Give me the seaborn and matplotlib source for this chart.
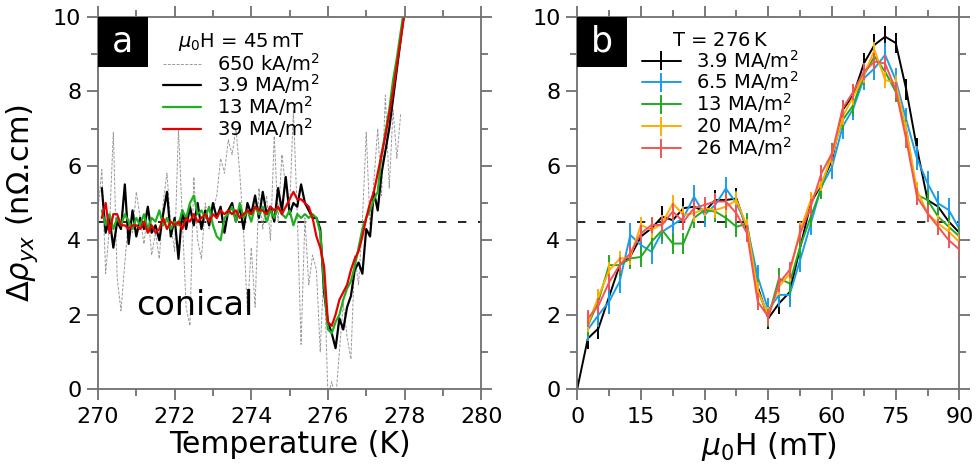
import matplotlib
matplotlib.use("Agg")
import matplotlib.pyplot as plt
from matplotlib.patches import Rectangle
from matplotlib.ticker import MultipleLocator
import seaborn as sns
import pandas as pd
import numpy as np

# ---------------- panel a : Delta rho_yx vs temperature at 45 mT ----------------
temp = np.round(np.arange(270.1, 278.05, 0.1), 1)
temp_gray = np.round(np.arange(270.0, 277.95, 0.1), 1)

rho_650k = [4.8, 5.9, 3.1, 4.4, 6.9, 3.0, 2.1, 3.4, 4.6, 4.2,
            5.3, 4.6, 3.9, 4.8, 3.6, 4.2, 3.5, 5.0, 5.8, 4.4,
            3.7, 7.0, 4.6, 2.2, 1.7, 5.7, 4.0, 3.5, 5.0, 4.3,
            4.8, 5.2, 6.2, 5.8, 6.7, 6.3, 7.0, 5.8, 4.2, 2.1,
            3.8, 2.2, 5.4, 4.3, 5.2, 4.0, 6.8, 4.5, 6.3, 5.4,
            4.8, 7.5, 4.7, 1.2, 4.6, 2.8, 3.6, 3.2, 1.0, 3.3,
            -0.2, 0.2, -0.3, 1.0, 2.3, 1.4, 0.8, 3.6, 2.8, 4.5,
            6.9, 4.4, 5.6, 7.0, 5.2, 7.9, 5.4, 7.5, 6.2, 7.4]

rho_3p9 = [5.4, 4.2, 4.6, 3.8, 4.5, 4.3, 5.5, 3.9, 4.8, 4.1,
           4.6, 4.3, 4.9, 4.2, 4.4, 4.0, 4.7, 5.3, 4.1, 4.6,
           3.5, 4.8, 4.3, 4.9, 4.4, 5.0, 4.3, 4.8, 4.4, 5.0,
           4.6, 4.9, 4.2, 4.8, 5.0, 4.5, 4.9, 4.3, 5.0, 4.7,
           5.2, 4.6, 5.3, 4.7, 4.9, 4.5, 5.4, 4.8, 5.7, 4.7,
           5.0, 4.9, 5.5, 5.0, 4.8, 4.6, 4.6, 4.3, 2.6, 1.8,
           1.5, 1.1, 1.9, 1.6, 2.2, 2.5, 3.2, 3.4, 3.1, 4.3,
           4.1, 5.3, 4.8, 5.8, 6.4, 7.0, 7.8, 8.6, 9.4, 10.2]

rho_13 = [4.8, 4.4, 4.7, 4.3, 4.6, 4.4, 4.7, 4.5, 4.3, 4.6,
          4.4, 4.7, 4.3, 4.6, 4.5, 4.8, 4.4, 4.6, 4.3, 4.5,
          4.4, 4.8, 4.6, 5.0, 5.2, 4.7, 4.8, 4.6, 4.9, 4.4,
          4.1, 4.0, 4.6, 4.7, 4.9, 4.5, 5.0, 4.6, 4.8, 4.5,
          4.9, 4.7, 4.9, 4.5, 4.8, 4.6, 4.9, 4.7, 4.6, 4.8,
          4.4, 4.7, 4.6, 4.7, 4.6, 4.7, 4.6, 4.2, 2.8, 1.6,
          1.5, 1.8, 2.0, 2.4, 2.7, 2.9, 3.3, 3.8, 4.3, 4.6,
          4.8, 5.1, 5.3, 6.3, 6.9, 7.5, 8.3, 8.9, 9.6, 10.3]

rho_39 = [4.6, 5.0, 4.2, 4.7, 4.7, 4.4, 4.4, 4.3, 4.4, 4.4,
          4.3, 4.5, 4.2, 4.4, 4.2, 4.3, 4.6, 4.3, 4.5, 4.4,
          4.5, 4.3, 4.6, 4.5, 4.7, 4.5, 4.6, 4.7, 4.5, 4.7,
          4.6, 4.8, 4.7, 4.8, 4.7, 4.8, 4.6, 4.7, 4.8, 4.7,
          4.9, 4.8, 4.8, 4.7, 4.9, 4.8, 4.9, 4.7, 4.9, 5.1,
          5.3, 5.1, 5.1, 5.0, 4.9, 4.6, 4.1, 3.8, 3.3, 1.8,
          1.7, 2.0, 2.4, 2.6, 2.8, 3.2, 3.5, 3.7, 4.1, 4.6,
          5.0, 5.3, 5.8, 6.3, 6.8, 7.4, 8.0, 8.7, 9.4, 10.1]

# ---------------- panel b : Delta rho_yx vs field at 276 K ----------------
field = np.arange(0, 90.1, 2.5)

rho_b_3p9 = [0.0, 1.36, 1.63, 2.48, 3.33, 3.56, 4.10, 4.32, 4.63, 4.54,
             4.86, 4.90, 4.77, 5.08, 5.08, 5.12, 4.27, 2.75, 1.90, 2.30,
             2.60, 3.80, 5.00, 5.50, 6.16, 7.50, 7.90, 8.75, 9.25, 9.47,
             9.30, 8.04, 6.47, 5.08, 4.90, 4.50, 4.20]
rho_b_6p5 = [1.60, 1.99, 2.35, 2.89, 4.14, 3.87, 3.69, 4.23, 4.41,
             4.60, 5.17, 4.68, 4.95, 5.39, 4.99, 4.36, 3.02, 2.12, 2.53,
             2.53, 3.47, 4.45, 5.44, 5.97, 7.05, 7.54, 8.35, 8.62, 8.98,
             8.31, 7.23, 6.20, 5.53, 4.99, 4.81, 4.30]
rho_b_13 = [1.70, 2.37, 3.33, 3.33, 3.51, 3.55, 3.96, 4.27, 3.91,
            3.91, 4.60, 4.81, 4.77, 4.60, 4.36, 4.45, 2.66, 1.94, 2.97,
            2.84, 3.83, 4.63, 5.40, 6.34, 7.23, 7.63, 8.44, 8.94, 8.53,
            7.99, 6.96, 5.22, 5.08, 4.63, 4.36, 4.10]
rho_b_20 = [1.74, 2.48, 3.19, 3.50, 3.55, 4.41, 4.27, 4.45, 4.99,
            4.68, 4.72, 4.86, 4.81, 4.90, 5.08, 4.36, 2.66, 1.99, 2.75,
            3.10, 4.27, 5.08, 5.53, 6.25, 7.32, 7.86, 8.44, 9.11, 8.31,
            8.22, 6.96, 5.35, 4.72, 4.45, 4.23, 3.95]
rho_b_26 = [1.90, 2.24, 2.87, 3.33, 3.65, 4.18, 4.41, 4.41, 4.77,
            4.50, 4.86, 4.95, 5.04, 5.04, 4.72, 4.18, 2.35, 1.94, 2.84,
            3.20, 4.18, 4.90, 5.80, 6.34, 7.54, 7.99, 8.53, 8.80, 8.75,
            8.04, 6.69, 5.17, 4.72, 4.36, 4.00, 3.75]
err_b = [0.28, 0.32, 0.28, 0.22, 0.22]

labels_a = ["650 kA/m$^2$", "3.9 MA/m$^2$", "13 MA/m$^2$", "39 MA/m$^2$"]
labels_b = ["3.9 MA/m$^2$", "6.5 MA/m$^2$", "13 MA/m$^2$", "20 MA/m$^2$", "26 MA/m$^2$"]

sns.set_style("ticks")
plt.rcParams['font.family'] = ['DejaVu Sans']
plt.rcParams['mathtext.fontset'] = 'dejavusans'
plt.rcParams['text.color'] = 'black'
plt.rcParams['axes.labelcolor'] = 'black'
plt.rcParams['xtick.labelcolor'] = 'black'
plt.rcParams['ytick.labelcolor'] = 'black'

fig = plt.figure(figsize=(9.8, 4.71), dpi=100)
ax_a = fig.add_axes([0.1, 0.174, 0.391, 0.79])
ax_b = fig.add_axes([0.589, 0.174, 0.390, 0.79])

spine_col = '#707070'

# panel a lines
df_gray = pd.DataFrame({"T": temp_gray, "rho": rho_650k})
sns.lineplot(data=df_gray, x="T", y="rho", ax=ax_a, color='#9a9a9a', lw=0.7,
             linestyle=(0, (3, 1.5)), label=labels_a[0], sort=False, estimator=None)
cols_a = ['black', '#1fb01f', '#e60000']
for vals, col, lab in zip([rho_3p9, rho_13, rho_39], cols_a, labels_a[1:]):
    df = pd.DataFrame({"T": temp, "rho": vals})
    sns.lineplot(data=df, x="T", y="rho", ax=ax_a, color=col, lw=1.6,
                 label=lab, sort=False, estimator=None)

# panel b lines with error bars
cols_b = ['black', '#1a9ee8', '#22aa22', '#ffae00', '#f25555']
series_b = [rho_b_3p9, rho_b_6p5, rho_b_13, rho_b_20, rho_b_26]
for i, (vals, col, lab) in enumerate(zip(series_b, cols_b, labels_b)):
    xs = field[len(field) - len(vals):]
    ax_b.errorbar(xs, vals, yerr=err_b[i], color=col, lw=1.4, elinewidth=1.4,
                  capsize=0, label=lab, zorder=2 + i)

for ax in (ax_a, ax_b):
    ax.axhline(4.5, color='black', lw=1.2, dashes=(5, 7), zorder=1)
    ax.set_ylim(0, 10)
    ax.yaxis.set_major_locator(MultipleLocator(2))
    ax.yaxis.set_minor_locator(MultipleLocator(1))
    for s in ax.spines.values():
        s.set_visible(True)
        s.set_color(spine_col)
        s.set_linewidth(1.3)
    ax.tick_params(which='both', direction='out', color=spine_col, width=1.3,
                   top=True, right=True, labelsize=16)
    ax.tick_params(which='major', length=8)
    ax.tick_params(which='minor', length=5)
    ax.tick_params(axis='x', pad=5)
    ax.tick_params(axis='y', pad=4)

ax_a.set_xlim(270, 280)
ax_a.xaxis.set_major_locator(MultipleLocator(2))
ax_a.xaxis.set_minor_locator(MultipleLocator(1))
ax_b.set_xlim(0, 90)
ax_b.xaxis.set_major_locator(MultipleLocator(15))
ax_b.xaxis.set_minor_locator(MultipleLocator(7.5))

ax_a.set_xlabel("Temperature (K)", fontsize=21.5, labelpad=2)
ax_b.set_xlabel(r"$\mu_0$H (mT)", fontsize=21.5, labelpad=2)
ax_a.set_ylabel(r"$\Delta\rho_{yx}$ (n$\Omega$.cm)", fontsize=22, labelpad=9)
ax_b.set_ylabel("")

ax_a.text(271.0, 2.0, "conical", fontsize=24, ha='left', va='baseline')

# panel letters
for ax, letter in ((ax_a, "a"), (ax_b, "b")):
    ax.add_patch(Rectangle((0, 1 - 0.134), 0.13, 0.134, transform=ax.transAxes,
                           facecolor='black', edgecolor='none', zorder=10))
    ax.text(0.065, 1 - 0.067, letter, transform=ax.transAxes, color='white',
            fontsize=25, ha='center', va='center', zorder=11)

leg_kw = dict(loc='upper left', bbox_to_anchor=(0.133, 1.0), frameon=False,
              fontsize=14, title_fontsize=14, labelspacing=-0.1,
              handlelength=2.0, handletextpad=0.8, borderaxespad=0.3)
ax_a.legend(title=r"$\mu_0$H = 45$\,$mT", **leg_kw)
ax_b.legend(title=r"T = 276$\,$K", **leg_kw)

fig.savefig("out.png", dpi=100)
